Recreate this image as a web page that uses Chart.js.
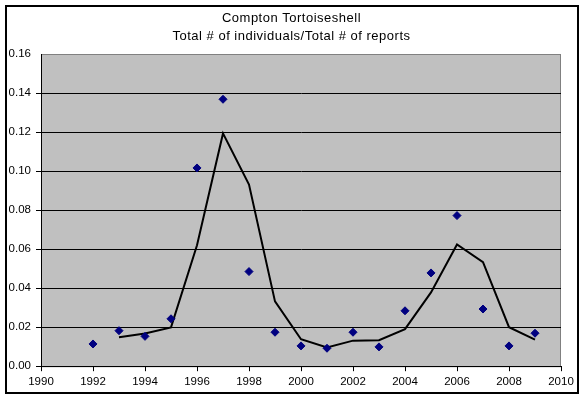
<!DOCTYPE html>
<html>
<head>
<meta charset="utf-8">
<script src="https://cdn.jsdelivr.net/npm/chart.js@4"></script>
<style>
  html, body { margin: 0; padding: 0; background: #fff; }
  #wrap { position: relative; width: 583px; height: 400px; }
  #frame {
    position: absolute; left: 5px; top: 5px; width: 570px; height: 385px;
    border: 2px solid #000; pointer-events: none;
  }
</style>
</head>
<body>
<div id="wrap">
  <canvas id="myChart" width="583" height="400"></canvas>
  <div id="frame"></div>
</div>
<script>
// values
var years = [1992, 1993, 1994, 1995, 1996, 1997, 1998, 1999, 2000, 2001, 2002, 2003, 2004, 2005, 2006, 2007, 2008, 2009];
var ratios = [0.0114, 0.0182, 0.0153, 0.0243, 0.1016, 0.1368, 0.0485, 0.0174, 0.0104, 0.0092, 0.0174, 0.0099, 0.0284, 0.0478, 0.0772, 0.0293, 0.0104, 0.0169];

// trend line (starts one year later)
var trendYears = [1993, 1994, 1995, 1996, 1997, 1998, 1999, 2000, 2001, 2002, 2003, 2004, 2005, 2006, 2007, 2008, 2009];
var trendValues = [0.0148, 0.0168, 0.0199, 0.0620, 0.1193, 0.0931, 0.0332, 0.0138, 0.0096, 0.0131, 0.0133, 0.0190, 0.0378, 0.0624, 0.0533, 0.0200, 0.0136];

var titleLines = ['Compton Tortoiseshell', 'Total # of individuals/Total # of reports'];
var fontFamily = 'Arial, "Liberation Sans", sans-serif';

// gray plot background with gray frame, like the old spreadsheet charts
var plotBackground = {
    id: 'plotBackground',
    beforeDraw: function(chart) {
        var a = chart.chartArea;
        var ctx = chart.ctx;
        ctx.save();
        ctx.fillStyle = '#C0C0C0';
        ctx.fillRect(a.left, a.top, a.right - a.left, a.bottom - a.top);
        ctx.strokeStyle = '#808080';
        ctx.lineWidth = 1;
        ctx.strokeRect(a.left + 0.5, a.top + 0.5, a.right - a.left - 1, a.bottom - a.top);
        ctx.restore();
    }
};

// title centred on the whole picture, not on the plot
var centeredTitle = {
    id: 'centeredTitle',
    afterDraw: function(chart) {
        var ctx = chart.ctx;
        ctx.save();
        ctx.fillStyle = '#000';
        ctx.font = '13px ' + fontFamily;
        ctx.letterSpacing = '0.5px';
        ctx.textAlign = 'center';
        ctx.textBaseline = 'middle';
        titleLines.forEach(function(line, i) {
            ctx.fillText(line, chart.width / 2, 18 + i * 18.5);
        });
        ctx.restore();
    }
};

var ctx = document.getElementById('myChart').getContext('2d');
new Chart(ctx, {
    type: 'scatter',
    data: {
        datasets: [
            {
                label: 'Ratio',
                data: years.map(function(y, i) { return { x: y, y: ratios[i] }; }),
                pointStyle: 'rectRot',
                pointRadius: 4,
                backgroundColor: '#000080',
                borderColor: '#000080',
                borderWidth: 1,
                order: 1
            },
            {
                label: 'Trend',
                type: 'line',
                data: trendYears.map(function(y, i) { return { x: y, y: trendValues[i] }; }),
                borderColor: '#000',
                borderWidth: 2,
                pointRadius: 0,
                tension: 0,
                fill: false,
                order: 2
            }
        ]
    },
    options: {
        responsive: false,
        animation: false,
        devicePixelRatio: 1,
        layout: { padding: { left: 0, right: 22, top: 54, bottom: 7 } },
        plugins: {
            legend: { display: false },
            tooltip: { enabled: false },
            title: { display: false }
        },
        scales: {
            x: {
                type: 'linear',
                min: 1990,
                max: 2010,
                ticks: {
                    stepSize: 2,
                    color: '#000',
                    padding: 4,
                    maxRotation: 0,
                    font: { family: fontFamily, size: 11.5 },
                    callback: function(v) { return String(v); }
                },
                grid: { drawOnChartArea: false, drawTicks: true, tickLength: 5, color: '#000' },
                border: { color: '#000', width: 1 }
            },
            y: {
                min: 0,
                max: 0.16,
                afterFit: function(scale) { scale.width = 41; },
                ticks: {
                    stepSize: 0.02,
                    color: '#000',
                    padding: 5,
                    font: { family: fontFamily, size: 11.5 },
                    callback: function(v) { return v.toFixed(2); }
                },
                grid: {
                    tickLength: 5,
                    color: function(c) {
                        return (c.tick && c.tick.value > 0.159) ? 'rgba(0,0,0,0)' : '#000';
                    }
                },
                border: { color: '#000', width: 1 }
            }
        }
    },
    plugins: [plotBackground, centeredTitle]
});
</script>
</body>
</html>
